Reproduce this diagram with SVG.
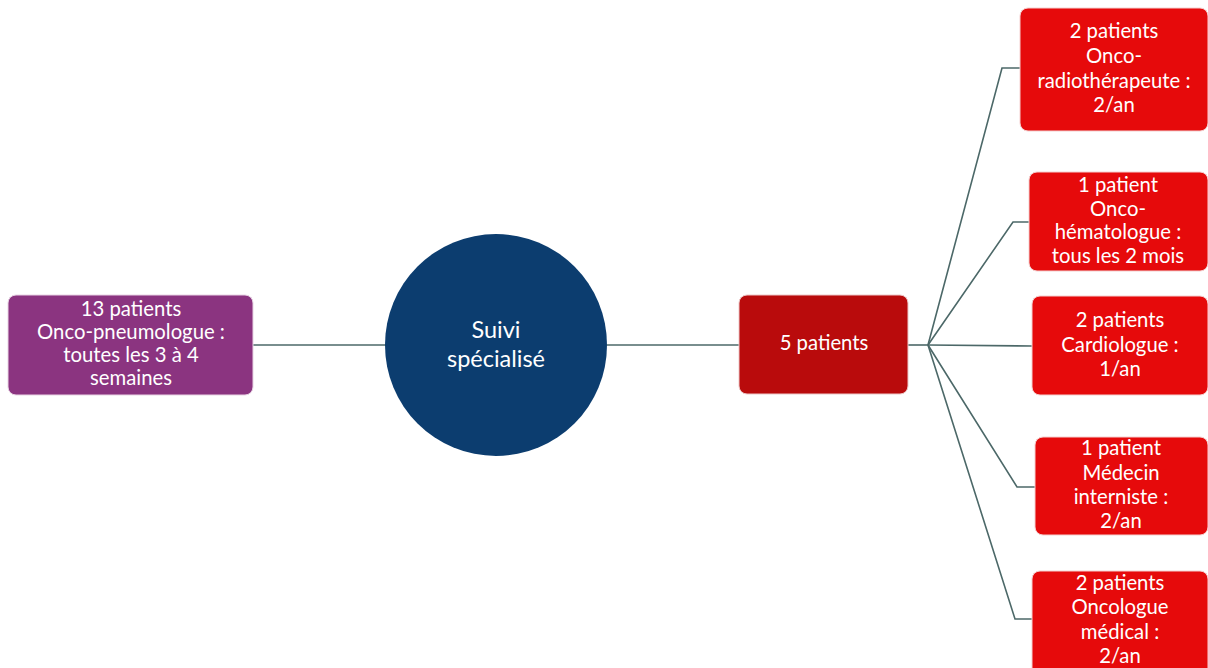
<svg xmlns="http://www.w3.org/2000/svg" width="1208" height="668" viewBox="0 0 1208 668">
<style>
.t{font-family:Lato,"Open Sans","Liberation Sans",sans-serif;fill:#fff;text-anchor:middle;font-size:20.3px}
.c{font-family:Lato,"Open Sans","Liberation Sans",sans-serif;fill:#fff;text-anchor:middle;font-size:23.5px}
.red{fill:#E60A0B;stroke:#f4d0d0;stroke-width:1}
.conn{fill:none;stroke:#4C6868;stroke-width:1.6}
</style>
<rect width="1208" height="668" fill="#fff"/>
<g id="connectors">
<line class="conn" x1="253" y1="345" x2="386" y2="345"/>
<line class="conn" x1="607" y1="345" x2="739" y2="345"/>
<line class="conn" x1="908" y1="345" x2="928" y2="345" stroke-width="2.6"/>
<polyline class="conn" points="928,345 1002,68 1021,68"/>
<polyline class="conn" points="928,345 1013,222 1030,222"/>
<polyline class="conn" points="928,345 1032,346"/>
<polyline class="conn" points="928,345 1017,487 1035,487"/>
<polyline class="conn" points="928,345 1015,619 1032,619"/>
</g>
<g id="n-left">
<rect x="8" y="295" width="245" height="100" rx="8" fill="#8B3480" stroke="#e8d4e4"/>
<text class="t" x="131" y="316">13 patients</text>
<text class="t" x="131" y="339">Onco-pneumologue :</text>
<text class="t" x="131" y="362">toutes les 3 à 4</text>
<text class="t" x="131" y="385">semaines</text>
</g>
<g id="n-center">
<circle cx="496" cy="345" r="111" fill="#0C3D6F"/>
<text class="c" x="496" y="338">Suivi</text>
<text class="c" x="496" y="367">spécialisé</text>
</g>
<g id="n-five">
<rect x="739" y="295" width="169" height="99" rx="8" fill="#B90B0C" stroke="#ecc8c8"/>
<text class="t" x="824" y="350">5 patients</text>
</g>
<g id="n-r1">
<rect class="red" x="1020" y="8" width="188" height="123" rx="8"/>
<text class="t" x="1114" y="38">2 patients</text>
<text class="t" x="1114" y="63">Onco-</text>
<text class="t" x="1114" y="88">radiothérapeute :</text>
<text class="t" x="1114" y="112">2/an</text>
</g>
<g id="n-r2">
<rect class="red" x="1029" y="172" width="179" height="99" rx="8"/>
<text class="t" x="1118" y="192">1 patient</text>
<text class="t" x="1118" y="216">Onco-</text>
<text class="t" x="1118" y="239">hématologue :</text>
<text class="t" x="1118" y="263">tous les 2 mois</text>
</g>
<g id="n-r3">
<rect class="red" x="1032" y="296" width="176" height="99" rx="8"/>
<text class="t" x="1120" y="327">2 patients</text>
<text class="t" x="1120" y="352">Cardiologue :</text>
<text class="t" x="1120" y="376">1/an</text>
</g>
<g id="n-r4">
<rect class="red" x="1035" y="437" width="173" height="98" rx="8"/>
<text class="t" x="1121" y="455">1 patient</text>
<text class="t" x="1121" y="480">Médecin</text>
<text class="t" x="1121" y="504">interniste :</text>
<text class="t" x="1121" y="528">2/an</text>
</g>
<g id="n-r5">
<rect class="red" x="1032" y="571" width="176" height="105" rx="8"/>
<text class="t" x="1120" y="590">2 patients</text>
<text class="t" x="1120" y="614">Oncologue</text>
<text class="t" x="1120" y="639">médical :</text>
<text class="t" x="1120" y="663">2/an</text>
</g>
</svg>
